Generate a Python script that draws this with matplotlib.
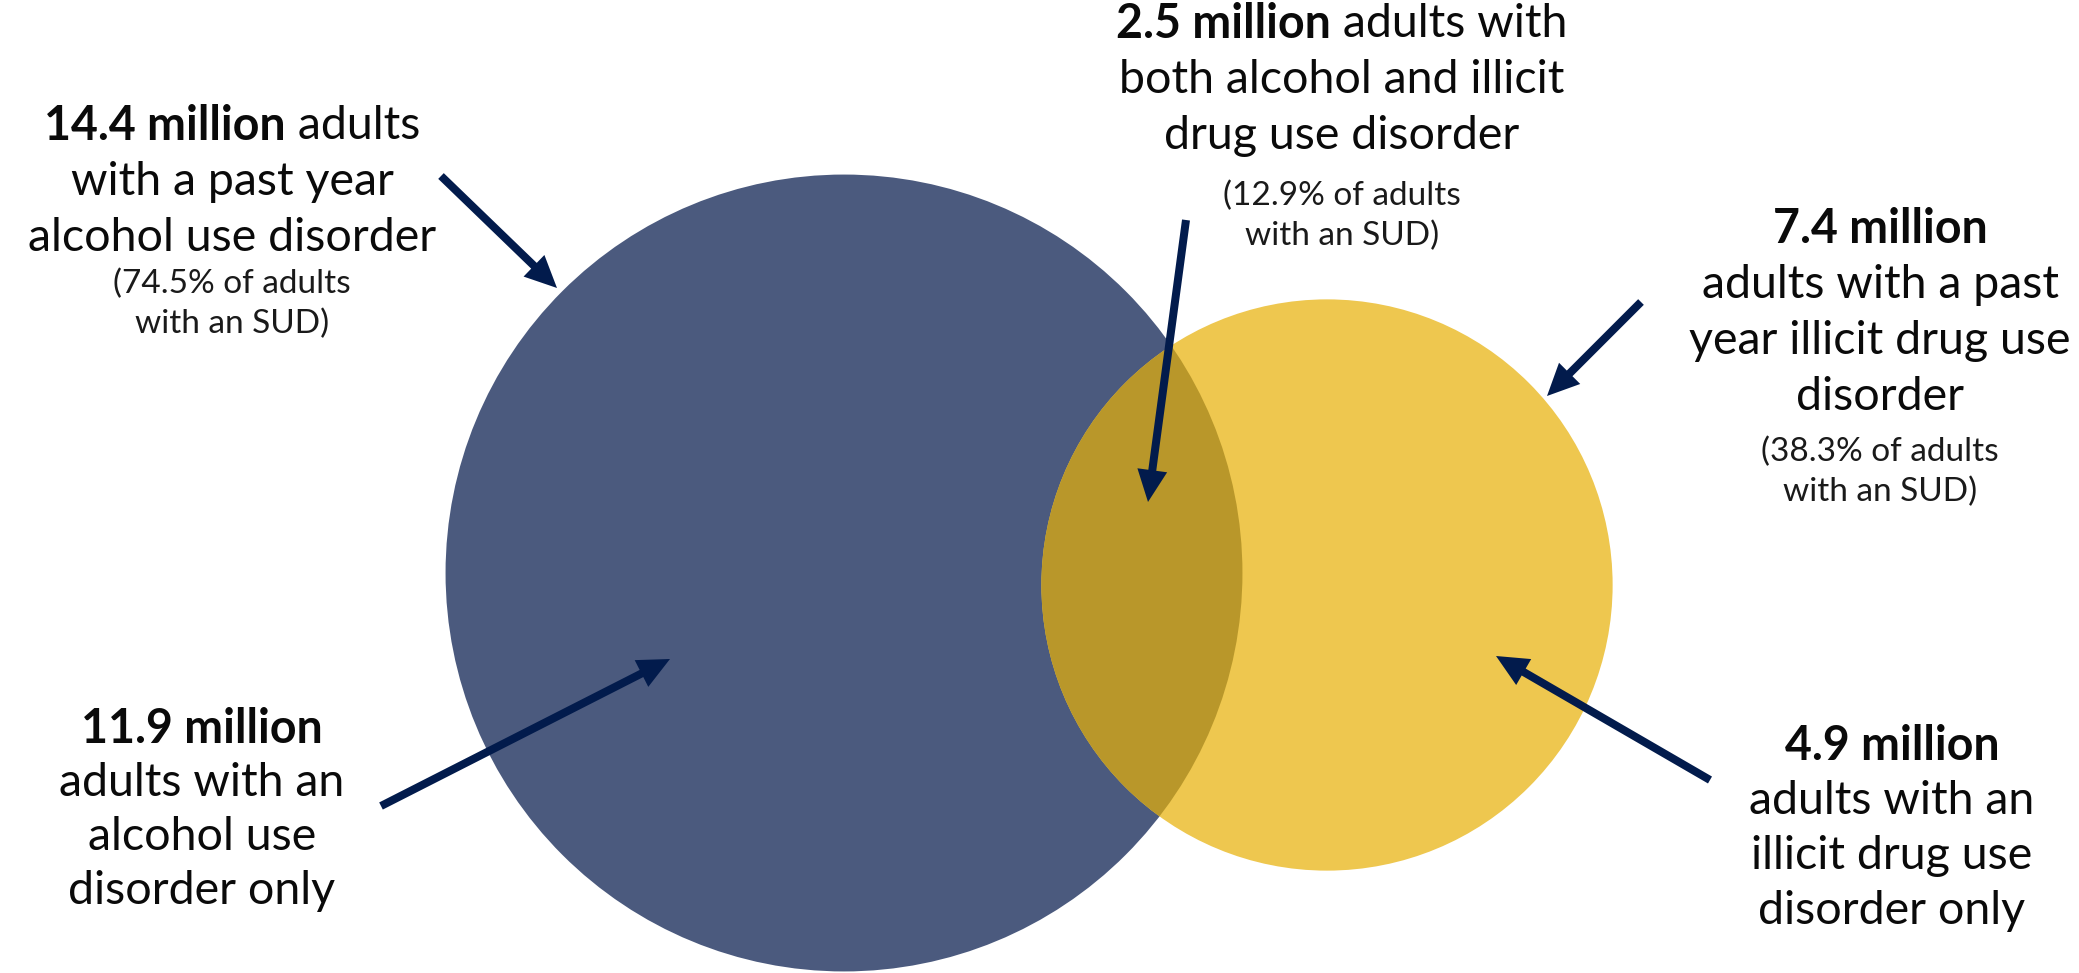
import matplotlib.pyplot as plt
from matplotlib.patches import Circle, FancyArrow
import numpy as np

# Adults with a past-year substance use disorder (millions)
alcohol_total = 14.4
drug_total = 7.4
both_total = 2.5
alcohol_only = 11.9
drug_only = 4.9

# Share of adults with an SUD (%)
alcohol_share = 74.5
both_share = 12.9
drug_share = 38.3

BLUE = "#4B5A7E"
YELLOW = "#EEC74F"
OVERLAP = "#B9972A"
NAVY = "#021B4C"
TXT = "#0A0A0A"

plt.rcParams["font.family"] = ["Lato", "DejaVu Sans"]

W, H = 2079, 973
fig = plt.figure(figsize=(W / 100, H / 100), dpi=100)
ax = fig.add_axes([0, 0, 1, 1])
ax.set_xlim(0, W)
ax.set_ylim(H, 0)
ax.axis("off")

# circle areas follow the totals
k = 105
r_alc = k * np.sqrt(alcohol_total)
r_drug = k * np.sqrt(drug_total)
c_alc = (844, 573)
c_drug = (1327, 585)

blue = Circle(c_alc, r_alc, facecolor=BLUE, edgecolor="none", zorder=1)
ax.add_patch(blue)
ax.add_patch(Circle(c_drug, r_drug, facecolor=YELLOW, edgecolor="none", zorder=2))
lens = Circle(c_drug, r_drug, facecolor=OVERLAP, edgecolor="none", zorder=3)
ax.add_patch(lens)
lens.set_clip_path(blue)

fig.canvas.draw()
renderer = fig.canvas.get_renderer()

MAIN = 33.5
SMALL = 24


def line(x, y, parts, size, color=TXT):
    # parts: list of (text, weight); the pieces are centred together on x
    items = []
    for s, w in parts:
        t = ax.text(0, y, s, fontsize=size, fontweight=w, color=color,
                    ha="left", va="center", zorder=5)
        items.append(t)
    widths = [t.get_window_extent(renderer).width for t in items]
    left = x - sum(widths) / 2
    for t, w in zip(items, widths):
        t.set_x(left)
        left += w


def callout(x, y0, bold, rest, lines, share=None, gap=56, share_y=None):
    first = [(bold, "bold")]
    if rest:
        first.append((rest, "normal"))
    line(x, y0, first, MAIN)
    for i, s in enumerate(lines):
        line(x, y0 + gap * (i + 1), [(s, "normal")], MAIN)
    if share is not None:
        line(x, share_y, [(f"({share}% of adults", "normal")], SMALL, "#1A1A1A")
        line(x, share_y + 40, [("with an SUD)", "normal")], SMALL, "#1A1A1A")


callout(232, 126, f"{alcohol_total} million", " adults",
        ["with a past year", "alcohol use disorder"],
        share=alcohol_share, share_y=284)
callout(1342, 24, f"{both_total} million", " adults with",
        ["both alcohol and illicit", "drug use disorder"],
        share=both_share, share_y=196)
callout(1880, 229, f"{drug_total} million", None,
        ["adults with a past", "year illicit drug use", "disorder"],
        share=drug_share, share_y=452)
callout(202, 729, f"{alcohol_only} million", None,
        ["adults with an", "alcohol use", "disorder only"], gap=54)
callout(1892, 746, f"{drug_only} million", None,
        ["adults with an", "illicit drug use", "disorder only"], gap=55)

# pointer arrows: (tail, tip)
arrows = [
    ((441, 176), (557, 288)),
    ((1186, 220), (1148, 502)),
    ((1641, 302), (1547, 396)),
    ((381, 806), (670, 659)),
    ((1710, 780), (1496, 656)),
]
for (x0, y0), (x1, y1) in arrows:
    ax.add_patch(FancyArrow(x0, y0, x1 - x0, y1 - y0, width=8,
                            head_width=30, head_length=32,
                            length_includes_head=True, color=NAVY,
                            lw=0, zorder=4))

fig.savefig("out.png", dpi=100)
